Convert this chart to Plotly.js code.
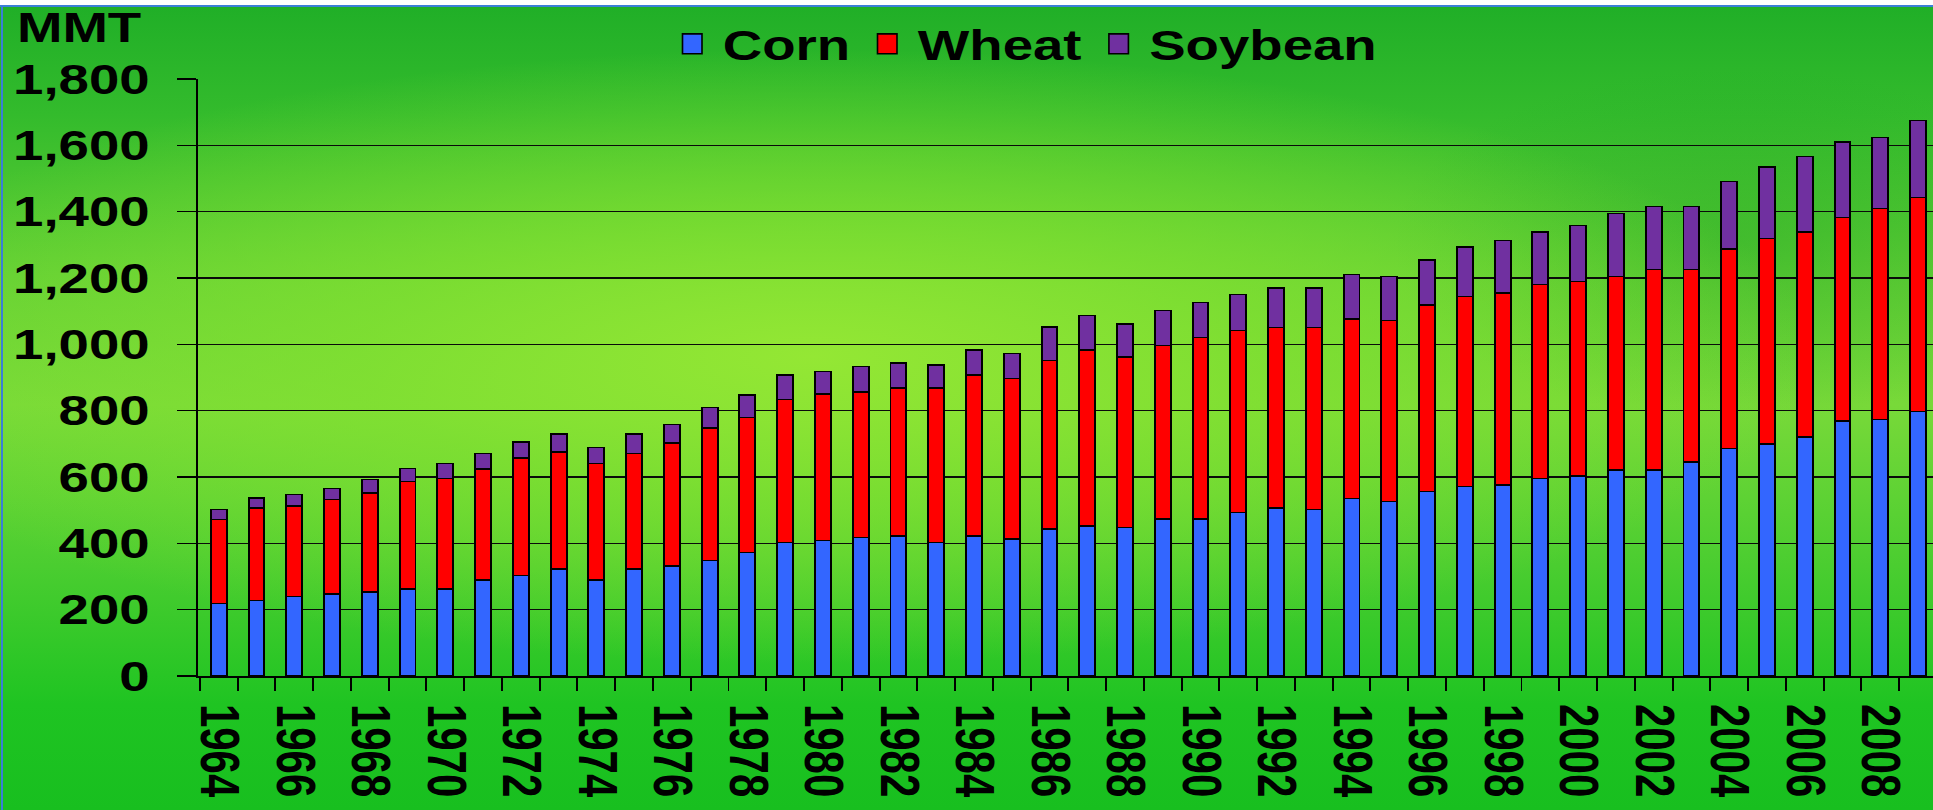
<!DOCTYPE html>
<html>
<head>
<meta charset="utf-8">
<script src="https://cdn.plot.ly/plotly-3.0.1.min.js"></script>
<style>
  html, body { margin: 0; padding: 0; width: 1933px; height: 810px; overflow: hidden; background: #ffffff; }
  #bg {
    position: absolute; left: 0; top: 0; width: 1933px; height: 810px;
    background:
      radial-gradient(ellipse 52% 38% at 42% 44%, rgba(150,232,52,0.95) 0%, rgba(132,226,48,0.7) 45%, rgba(70,205,42,0) 100%),
      radial-gradient(ellipse 18% 22% at 90% 30%, rgba(25,160,35,0.35) 0%, rgba(25,160,35,0) 100%),
      linear-gradient(180deg, #1fae27 0%, #33bb2c 14%, #62cf35 34%, #78d939 50%, #4acd30 70%, #1fc422 87%, #18bf1f 100%);
  }
  #chart { position: absolute; left: 0; top: 0; width: 1487px; height: 810px; transform: scaleX(1.3); transform-origin: 0 0; }
  #topwhite { position: absolute; left: 0; top: 0; width: 1933px; height: 5px; background: #ffffff; }
  #topblue { position: absolute; left: 0; top: 5px; width: 1933px; height: 2px; background: #3a7fd6; }
  #leftblue { position: absolute; left: 1px; top: 5px; width: 2px; height: 805px; background: #3a7fd6; }
</style>
</head>
<body>
<div id="bg"></div>
<div id="chart"></div>
<div id="topwhite"></div>
<div id="topblue"></div>
<div id="leftblue"></div>
<script>
// ---- data (million metric tons) ----
var years = [1964,1965,1966,1967,1968,1969,1970,1971,1972,1973,
             1974,1975,1976,1977,1978,1979,1980,1981,1982,1983,
             1984,1985,1986,1987,1988,1989,1990,1991,1992,1993,
             1994,1995,1996,1997,1998,1999,2000,2001,2002,2003,
             2004,2005,2006,2007,2008,2009];
var corn = [219,228,239,248,254,262,262,290,303,323,
            290,323,332,349,372,402,408,417,422,402,
            422,413,443,453,448,473,473,493,506,502,
            535,526,556,571,576,596,603,621,621,645,
            686,700,720,769,774,798];
var wheat = [253,278,273,284,298,325,333,334,355,353,
             351,348,371,399,407,431,443,440,446,466,
             486,484,509,530,514,523,548,548,545,549,
             542,546,563,573,579,584,586,583,604,580,
             602,619,618,614,635,644];
var soybean = [30,31,35,34,41,38,46,47,48,53,
               48,58,56,62,68,75,67,76,75,69,
               75,76,100,104,99,106,105,110,119,119,
               133,132,135,149,158,159,169,190,191,191,
               203,216,228,227,215,233];
var seriesNames = ["Corn", "Wheat", "Soybean"];
var tickYears = [1964,1966,1968,1970,1972,1974,1976,1978,1980,1982,1984,1986,
                 1988,1990,1992,1994,1996,1998,2000,2002,2004,2006,2008];
var tickLabels = tickYears.map(String);
var yTicks = [0,200,400,600,800,1000,1200,1400,1600,1800];
var yTitle = "MMT";

var FONT = "Liberation Sans, Arial, Helvetica, sans-serif";
var FS = 42;
var colors = ["#3366FF", "#FF0000", "#7030A0"];
var values = [corn, wheat, soybean];

var traces = values.map(function (v, i) {
  return {
    type: "bar",
    name: seriesNames[i],
    x: years,
    y: v,
    marker: { color: colors[i], line: { color: "#000000", width: 1.5 } },
    hoverinfo: "skip"
  };
});

var layout = {
  width: 1487,
  height: 810,
  margin: { l: 151.5, r: 0, t: 79, b: 134, pad: 0 },
  paper_bgcolor: "rgba(0,0,0,0)",
  plot_bgcolor: "rgba(0,0,0,0)",
  barmode: "stack",
  bargap: 0.58,
  font: { family: FONT, size: FS, color: "#000000", weight: "bold" },
  showlegend: true,
  legend: {
    orientation: "h",
    xref: "container", yref: "container",
    x: 0.3423, xanchor: "left",
    y: 1 - 10 / 810, yanchor: "top",
    bgcolor: "rgba(0,0,0,0)",
    font: { family: FONT, size: FS, color: "#000000", weight: "bold" },
    itemwidth: 37,
    traceorder: "normal"
  },
  xaxis: {
    type: "linear",
    range: [1963.44, 2009.4],
    tickmode: "array",
    tickvals: tickYears,
    ticktext: tickLabels,
    tickangle: 90,
    ticks: "",
    ticklabelstandoff: 18,
    tickfont: { family: FONT, size: FS, color: "#000000", weight: "bold" },
    showgrid: false,
    zeroline: false,
    showline: true,
    linecolor: "#000000",
    linewidth: 1.5,
    minor: { tick0: 1963.5, dtick: 1, ticks: "outside", ticklen: 13, tickwidth: 1.5, tickcolor: "#000000", showgrid: false },
    fixedrange: true
  },
  yaxis: {
    range: [0, 1800],
    tickmode: "array",
    tickvals: yTicks,
    tickformat: ",d",
    ticks: "outside",
    ticklen: 14,
    tickwidth: 1.5,
    tickcolor: "#000000",
    ticklabelstandoff: 13,
    tickfont: { family: FONT, size: FS, color: "#000000", weight: "bold" },
    showgrid: true,
    gridcolor: "#0a0a0a",
    gridwidth: 1.5,
    zeroline: false,
    showline: true,
    linecolor: "#000000",
    linewidth: 1.5,
    fixedrange: true
  },
  annotations: [{
    text: yTitle,
    xref: "paper", yref: "paper",
    x: -0.1055, xanchor: "left",
    y: (677 - 27) / 598, yanchor: "middle",
    showarrow: false,
    font: { family: FONT, size: FS, color: "#000000", weight: "bold" }
  }]
};

Plotly.newPlot("chart", traces, layout, { displayModeBar: false, staticPlot: true }).then(function () {
  // enlarge the legend colour swatches to the size used in the original slide
  var sw = document.querySelectorAll("#chart .legendpoints path");
  for (var i = 0; i < sw.length; i++) {
    var t = sw[i].getAttribute("transform") || "";
    sw[i].setAttribute("transform", t + " scale(1.25,1.65)");
    sw[i].style.strokeWidth = "1px";
  }
});
</script>
</body>
</html>
